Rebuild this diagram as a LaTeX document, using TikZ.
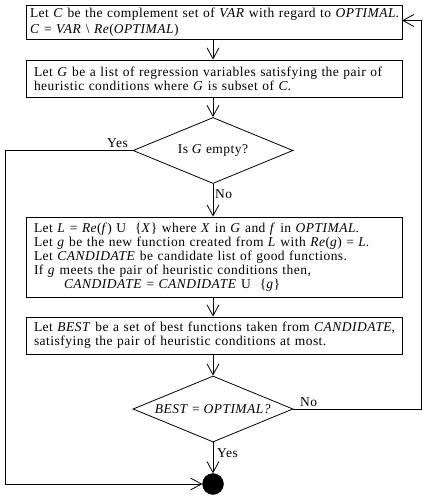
\documentclass[tikz,border=0pt]{standalone}
\usepackage{fontspec}
\setmainfont{Liberation Serif}[LetterSpace=3.5]
\usetikzlibrary{arrows.meta,shapes.geometric}
\begin{document}
\begin{tikzpicture}[x=1pt,y=-1pt,
  every node/.style={font=\fontsize{13.5}{14}\selectfont},
  box/.style={draw,line width=0.8pt,minimum width=376pt,inner xsep=8pt,inner ysep=0pt,text width=360pt,align=left},
  dia/.style={draw,line width=0.8pt,diamond,aspect=2.4,inner sep=0pt,minimum width=160pt,minimum height=66pt},
  arr/.style={line width=0.8pt,-{Straight Barb[length=11pt,width=12pt,line width=0.8pt]}},
  lab/.style={inner sep=0pt,anchor=west}]
\useasboundingbox (0,0) rectangle (427,497);
\node[box,minimum height=34pt,inner xsep=4pt,text width=368pt,font=\fontsize{13.5}{16.5}\selectfont] (b1) at (214,22) {\mbox{Let \textit{C} be the complement set of \textit{VAR} with regard to \textit{OPTIMAL}.}\\ \mbox{\textit{C} = \textit{VAR} \textbackslash\ \textit{Re}(\textit{OPTIMAL})}};
\node[box,minimum height=37pt] (b2) at (214,78.5) {\mbox{Let \textit{G} be a list of regression variables satisfying the pair of}\\ \mbox{heuristic conditions where \textit{G} is subset of \textit{C}.}};
\node[dia] (d1) at (213,150.5) {Is \textit{G} empty?};
\node[box,minimum height=80pt] (b3) at (214,257) {\mbox{Let \textit{L} = \textit{Re}(\textit{f}) U\ \ \{\textit{X}\} where \textit{X} in \textit{G} and \textit{f} in \textit{OPTIMAL}.}\\
\mbox{Let \textit{g} be the new function created from \textit{L} with \textit{Re}(\textit{g}) = \textit{L}.}\\
\mbox{Let \textit{CANDIDATE} be candidate list of good functions.}\\
\mbox{If \textit{g} meets the pair of heuristic conditions then,}\\
\mbox{\hspace*{30pt}\textit{CANDIDATE} = \textit{CANDIDATE} U\ \ \{\textit{g}\}}};
\node[box,minimum height=37pt] (b4) at (214,335.5) {\mbox{Let \textit{BEST} be a set of best functions taken from \textit{CANDIDATE},}\\ \mbox{satisfying the pair of heuristic conditions at most.}};
\node[dia] (d2) at (213,409) {\textit{BEST} = \textit{OPTIMAL?}};
\node[circle,fill=black,draw,minimum size=21pt,inner sep=0pt] (end) at (213,484) {};
\coordinate (lt) at (5,150.5);
\coordinate (lb) at (5,484);
\coordinate (rb) at (421,409);
\coordinate (rt) at (421,20.5);
\coordinate (b1e) at (402,20.5);
\draw[arr] (b1.south -| d1.north) -- (b2.north -| d1.north);
\draw[arr] (b2.south -| d1.north) -- (d1.north);
\draw[arr] (d1.south) -- (b3.north -| d1.south);
\draw[arr] (b3.south -| d1.north) -- (b4.north -| d1.north);
\draw[arr] (b4.south -| d1.north) -- (d2.north);
\draw[arr] (d2.south) -- (end.north);
\draw[arr] (d1.west) -- (lt) -- (lb) -- (end.west);
\draw[arr] (d2.east) -- (rb) -- (rt) -- (b1e);
\node[lab] (yes1) at (107,143) {Yes};
\node[lab] (no1) at (215,194) {No};
\node[lab] (no2) at (300,402) {No};
\node[lab] (yes2) at (217,453) {Yes};
\end{tikzpicture}
\end{document}
